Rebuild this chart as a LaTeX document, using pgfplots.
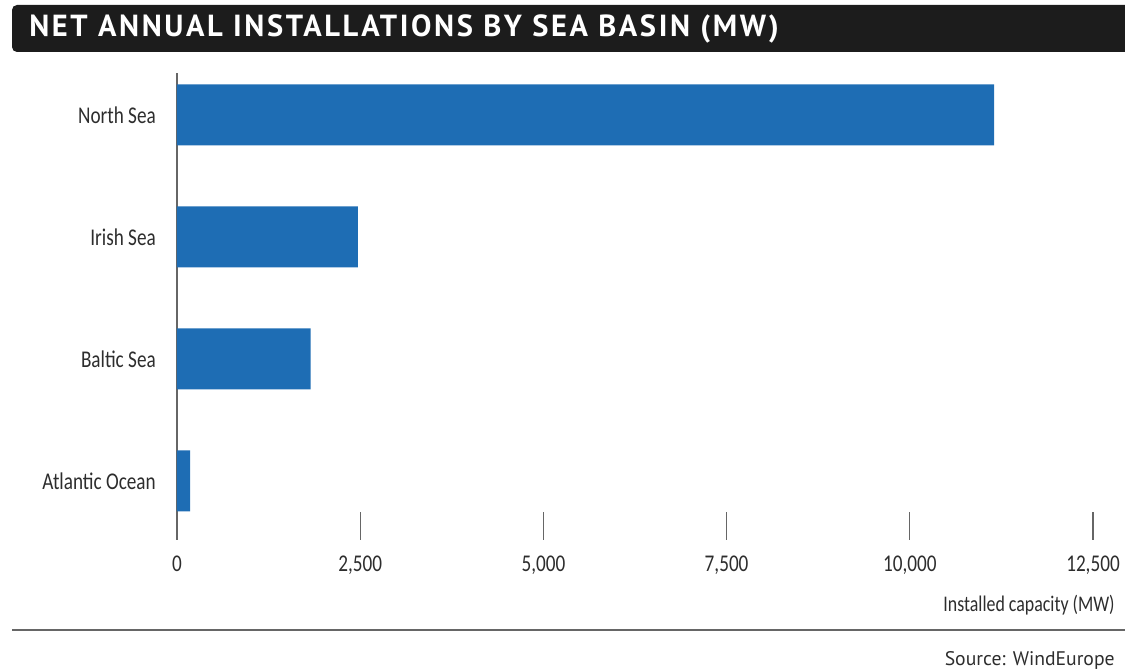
\documentclass[border=0pt]{standalone}
\usepackage{fontspec}
\setmainfont{Carlito}
\newfontfamily\labelfont{Carlito}[FakeStretch=0.8]
\newfontfamily\titlefont{PT Sans}[LetterSpace=8.5]
\newfontfamily\srcfont{PT Sans}
\usepackage{pgfplots}
\pgfplotsset{compat=1.18}
\definecolor{barblue}{RGB}{30,109,180}
\definecolor{txt}{RGB}{45,45,45}
\definecolor{titlebg}{RGB}{28,28,28}
\begin{document}
\begin{tikzpicture}[x=0.6pt,y=0.6pt]
  % canvas in pixel units (origin bottom-left, 1125 x 671)
  \useasboundingbox (0,0) rectangle (1125,671);
  % title banner
  \begin{scope}
    \clip (0,0) rectangle (1125,671);
    \fill[titlebg,rounded corners=3pt] (12,619) rectangle (1140,666);
  \end{scope}
  \node[anchor=west,text=white,font=\titlefont\bfseries\fontsize{18.3}{20}\selectfont,inner sep=0pt]
    at (29,642) {NET ANNUAL INSTALLATIONS BY SEA BASIN (MW)};

  % axis origin at pixel (177,131) -> 0.6pt per pixel
  \begin{axis}[
    at={(106.2pt,78.6pt)}, anchor=south west,
    scale only axis, width=549.6pt, height=280.2pt,
    xmin=0, xmax=12500,
    ymin=-0.484, ymax=3.344,
    axis lines=left, axis line style={-},
    x axis line style={draw=none},
    y axis line style={draw=gray!80!black, line width=0.7pt},
    xtick={0,2500,...,12500},
    scaled x ticks=false,
    ytick={0,1,2,3},
    yticklabels={Atlantic Ocean, Baltic Sea, Irish Sea, North Sea},
    tick align=inside,
    major tick length=16.8pt,
    xtick style={draw=gray!80!black, line width=0.7pt},
    ytick style={draw=none},
    /pgf/number format/.cd, fixed, precision=0, 1000 sep={,}, assume math mode=true,
    /pgfplots/.cd,
    xticklabel style={font=\labelfont\fontsize{14.4}{16}\selectfont, text=txt, yshift=-6pt},
    yticklabel style={font=\labelfont\fontsize{14.4}{16}\selectfont, text=txt, xshift=-9.2pt},
  ]
    \addplot[xbar, fill=barblue, draw=none, bar width=0.5]
      coordinates {(11150,3) (2470,2) (1825,1) (180,0)};
  \end{axis}

  \node[anchor=east,text=txt,font=\labelfont\fontsize{13.4}{16}\selectfont,inner sep=0pt]
    at (1115,66) {Installed capacity (MW)};
  \draw[gray!80!black, line width=0.7pt] (12,41) -- (1125,41);
  \node[anchor=east,text=txt,font=\srcfont\fontsize{11.8}{14}\selectfont,inner sep=0pt]
    at (1115,11) {Source: WindEurope};
\end{tikzpicture}
\end{document}
